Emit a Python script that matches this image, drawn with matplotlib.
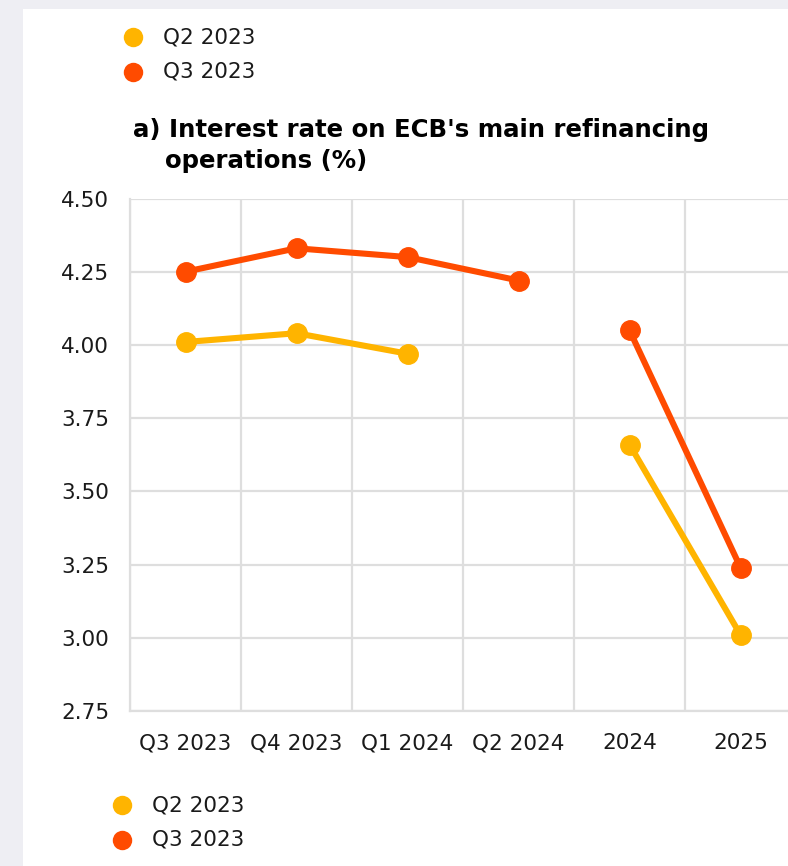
import numpy as np
import matplotlib
matplotlib.use("Agg")
import matplotlib.pyplot as plt
from matplotlib.lines import Line2D
from matplotlib.patches import Rectangle

# data
categories = ["Q3 2023", "Q4 2023", "Q1 2024", "Q2 2024", "2024", "2025"]
series_names = ["Q2 2023", "Q3 2023"]
q2_2023_quarterly = [4.01, 4.04, 3.97]
q2_2023_annual = [3.66, 3.01]
q3_2023_quarterly = [4.25, 4.33, 4.30, 4.22]
q3_2023_annual = [4.05, 3.24]
y_ticks = [2.75, 3.00, 3.25, 3.50, 3.75, 4.00, 4.25, 4.50]

YELLOW = "#FFB400"
RED = "#FF4B00"
GRID = "#DEDEDE"

plt.rcParams["font.family"] = ["DejaVu Sans"]

W, H = 788, 866
fig = plt.figure(figsize=(W / 100, H / 100), dpi=100)
fig.patch.set_facecolor("#EEEEF3")
fig.add_artist(Rectangle((23 / W, 0), 1, 1 - 9 / H, transform=fig.transFigure,
                         facecolor="white", edgecolor="none", zorder=0))

ax = fig.add_axes([130 / W, 1 - 711 / H, 666 / W, (711 - 198.5) / H])
ax.set_facecolor("none")

n_q = len(categories) - 2
annual_x = np.arange(n_q, len(categories))
for quarterly, annual, color in [(q2_2023_quarterly, q2_2023_annual, YELLOW),
                                 (q3_2023_quarterly, q3_2023_annual, RED)]:
    ax.plot(np.arange(len(quarterly)), quarterly, color=color, lw=4.4,
            marker="o", ms=14, solid_capstyle="round", zorder=3)
    ax.plot(annual_x, annual, color=color, lw=4.4,
            marker="o", ms=14, solid_capstyle="round", zorder=3)

ax.set_xlim(-0.5, len(categories) - 0.5)
ax.set_ylim(2.75, 4.5)
ax.set_yticks(y_ticks)
ax.set_yticklabels([f"{v:.2f}" for v in y_ticks])
ax.set_xticks(np.arange(len(categories)))
ax.set_xticklabels(categories)
ax.set_xticks(np.arange(len(categories) + 1) - 0.5, minor=True)
ax.tick_params(axis="both", which="both", length=0, labelsize=15.5, colors="#1a1a1a")
ax.tick_params(axis="y", pad=15)
ax.tick_params(axis="x", pad=16)
ax.grid(axis="y", color=GRID, lw=1.6)
ax.grid(axis="x", which="minor", color=GRID, lw=1.6)
ax.grid(axis="x", which="major", visible=False)
for side in ["top", "right"]:
    ax.spines[side].set_visible(False)
for side in ["left", "bottom"]:
    ax.spines[side].set_color(GRID)
    ax.spines[side].set_linewidth(1.6)

# title
fig.text(133 / W, 1 - 130 / H, "a) Interest rate on ECB's main refinancing",
         fontsize=17.6, fontweight="bold", va="center", ha="left", color="#000000")
fig.text(165 / W, 1 - 161 / H, "operations (%)",
         fontsize=17.6, fontweight="bold", va="center", ha="left", color="#000000")

# legends (top and bottom)
for x, y in [(133, 37), (122, 805)]:
    for i, (color, name) in enumerate(zip((YELLOW, RED), series_names)):
        yy = 1 - (y + 35 * i) / H
        fig.add_artist(Line2D([x / W], [yy], transform=fig.transFigure, ls="none",
                              marker="o", ms=14, color=color, mec="none"))
        fig.text((x + 30) / W, yy, name, fontsize=15.5, va="center", ha="left",
                 color="#1a1a1a")

fig.savefig("out.png", dpi=100)
